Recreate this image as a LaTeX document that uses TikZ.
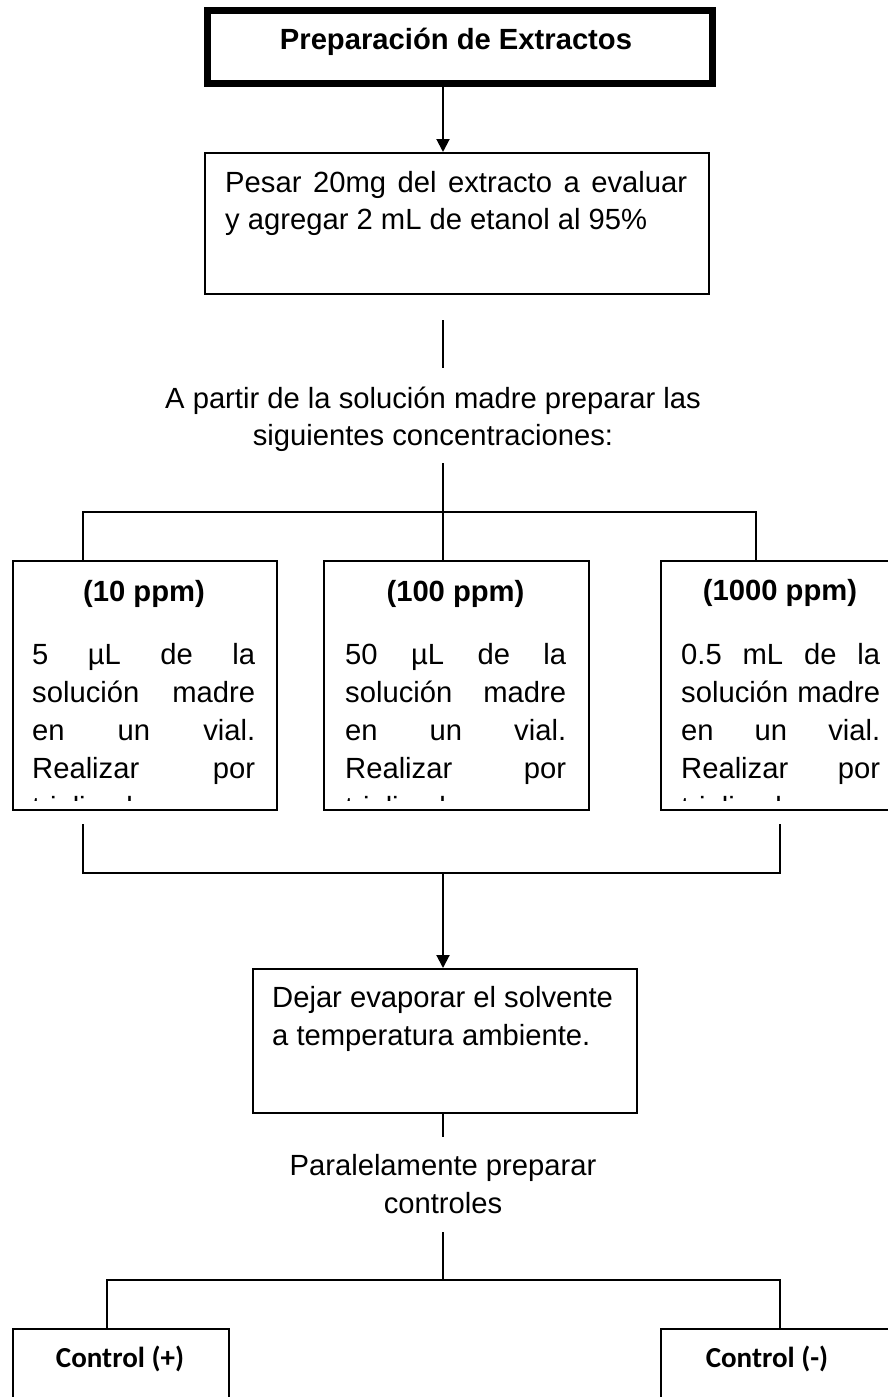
\documentclass[tikz,border=0pt]{standalone}
\usepackage{fontspec}
\setmainfont{Liberation Sans}
\newfontfamily\calibri{Carlito}
\usetikzlibrary{arrows.meta}
\hbadness=10000
\tikzset{
    >={Triangle[length=13pt, width=13pt]},
    % Cajas
    caja/.style={rectangle, draw=black, line width=2pt, anchor=north west, inner sep=0pt},
    cajaTitulo/.style={caja, line width=7pt},
    % Textos
    texto/.style={inner sep=0pt, anchor=base west, font=\fontsize{29.2}{38}\selectfont},
    textoCentro/.style={texto, anchor=base},
    textoDosis/.style={texto, font=\fontsize{29.2}{38.3}\selectfont},
    negrita/.style={inner sep=0pt, anchor=base, font=\bfseries\fontsize{29.2}{35}\selectfont},
    ctrlTexto/.style={inner sep=0pt, anchor=base, font=\calibri\bfseries\fontsize{29}{35}\selectfont},
    % Lineas
    flujo/.style={->, line width=2pt},
    enlace/.style={line width=2pt}
}

\begin{document}
\begin{tikzpicture}[x=1pt, y=-1pt]

\path[use as bounding box, fill=white] (0,0) rectangle (888,1397);
\clip (0,0) rectangle (888,1397);

% Cajas
\node[cajaTitulo, minimum width=505pt, minimum height=72pt] (titulo) at (203.5,7.5) {};
\node[caja, minimum width=504pt, minimum height=141pt] (pesar) at (204,152) {};
\node[caja, minimum width=264pt, minimum height=249pt] (cajaA) at (12,560) {};
\node[caja, minimum width=265pt, minimum height=249pt] (cajaB) at (323,560) {};
\node[caja, minimum width=240pt, minimum height=249pt] (cajaC) at (660,560) {};
\node[caja, minimum width=384pt, minimum height=144pt] (dejar) at (252,968) {};
\node[caja, minimum width=216pt, minimum height=120pt] (ctrlMas) at (12,1328) {};
\node[caja, minimum width=240pt, minimum height=120pt] (ctrlMenos) at (660,1328) {};

% Textos
\node[negrita] (tTitulo) at (456,50) {Preparación de Extractos};
\node[texto, font=\fontsize{29.2}{37}\selectfont] (tPesar) at (225,192)
    {\parbox[t]{462pt}{Pesar 20mg del extracto a evaluar\linebreak y agregar 2 mL de etanol al 95\%}};
\node[textoCentro, font=\fontsize{29.2}{37}\selectfont] (tPartir) at (433,408)
    {\parbox[t]{600pt}{\centering A partir de la solución madre preparar las\\siguientes concentraciones:}};

\node[negrita] (tPpmA) at (144,601) {(10 ppm)};
\node[negrita] (tPpmB) at (455.5,601) {(100 ppm)};
\node[negrita] (tPpmC) at (780,600) {(1000 ppm)};

\begin{scope}
\clip (0,560) rectangle (888,800);
\node[textoDosis] (tDosisA) at (32,664)
    {\parbox[t]{223pt}{5 µL de la\linebreak solución madre\linebreak en un vial.\linebreak Realizar por\linebreak triplicado.}};
\node[textoDosis] (tDosisB) at (345,664)
    {\parbox[t]{221pt}{50 µL de la\linebreak solución madre\linebreak en un vial.\linebreak Realizar por\linebreak triplicado.}};
\node[textoDosis] (tDosisC) at (681,664)
    {\parbox[t]{199pt}{0.5 mL de la\linebreak solución madre\linebreak en un vial.\linebreak Realizar por\linebreak triplicado.}};
\end{scope}

\node[texto] (tDejar) at (272,1007)
    {\parbox[t]{360pt}{\raggedright Dejar evaporar el solvente\\a temperatura ambiente.}};
\node[textoCentro] (tParalelo) at (443,1175)
    {\parbox[t]{400pt}{\centering Paralelamente preparar\\controles}};
\node[ctrlTexto] (tMas) at (120,1367) {Control (+)};
\node[ctrlTexto] (tMenos) at (767,1367) {Control (-)};

% Puntos de las lineas
\coordinate (eje) at (443,0);
\coordinate (g1) at (443,320);
\coordinate (g2) at (443,368);
\coordinate (g3) at (443,463);
\coordinate (ramaIzq) at (83,512);
\coordinate (ramaCen) at (443,512);
\coordinate (ramaDer) at (756,512);
\coordinate (juntaIzq) at (83,824);
\coordinate (juntaDer) at (780,824);
\coordinate (baseIzq) at (83,873);
\coordinate (baseCen) at (443,873);
\coordinate (baseDer) at (780,873);
\coordinate (g4) at (443,1137);
\coordinate (g5) at (443,1232);
\coordinate (ctrlIzq) at (107,1280);
\coordinate (ctrlCen) at (443,1280);
\coordinate (ctrlDer) at (780,1280);

% Lineas
\draw[flujo] (titulo.south -| eje) -- (pesar.north -| eje);
\draw[enlace] (g1) -- (g2);
\draw[enlace] (g3) -- (ramaCen);
\draw[enlace] (cajaA.north -| ramaIzq) -- (ramaIzq) -- (ramaDer) -- (cajaC.north -| ramaDer);
\draw[enlace] (ramaCen) -- (cajaB.north -| ramaCen);
\draw[enlace] (juntaIzq) -- (baseIzq) -- (baseDer) -- (juntaDer);
\draw[flujo] (baseCen) -- (dejar.north -| baseCen);
\draw[enlace] (dejar.south -| eje) -- (g4);
\draw[enlace] (g5) -- (ctrlCen);
\draw[enlace] (ctrlMas.north -| ctrlIzq) -- (ctrlIzq) -- (ctrlDer) -- (ctrlMenos.north -| ctrlDer);

\end{tikzpicture}
\end{document}
